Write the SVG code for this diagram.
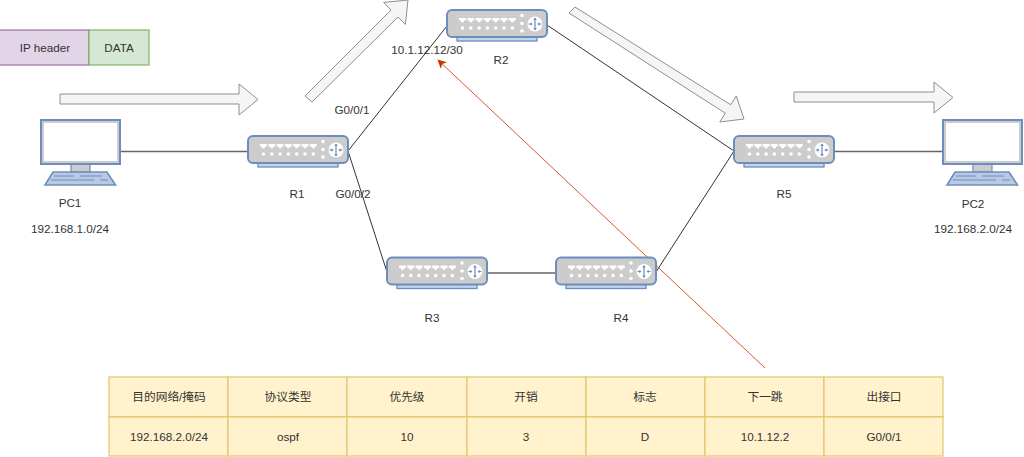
<svg xmlns="http://www.w3.org/2000/svg" xmlns:xlink="http://www.w3.org/1999/xlink" width="1024" height="457" viewBox="0 0 1024 457">
<style>
text{font-family:"Liberation Sans","Noto Sans CJK SC",Arial,sans-serif;font-size:11.7px;fill:#333;text-anchor:middle}
.link{stroke:#333;stroke-width:1;fill:none}
.grey{stroke:#666;stroke-width:1.300}
.blk{fill:#f5f5f5;stroke:#8f8f8f;stroke-width:1}
.cell{fill:#fff2cc;stroke:#e3c56f;stroke-width:1.200}
.body{fill:#ccc;stroke:#6c8ebf;stroke-width:2}
.blue{fill:#c6d4ea;stroke:#6c8ebf;stroke-width:1.300}
.w{fill:#fff}
</style>
<defs>
<g id="port"><path d="M-3.500-2H3.500V.5H1.500V2.300H-1.500V.5H-3.500Z" class="w"/><circle cy="8" r="1.800" class="w"/></g>
<g id="router">
<rect x="10" y="27" width="80" height="4" class="blue"/>
<rect x="0" y="0" width="100" height="27" rx="5" class="body"/>
<use xlink:href="#port" href="#port" x="15.500" y="10"/>
<use xlink:href="#port" href="#port" x="23.800" y="10"/>
<use xlink:href="#port" href="#port" x="32.100" y="10"/>
<use xlink:href="#port" href="#port" x="40.400" y="10"/>
<use xlink:href="#port" href="#port" x="48.700" y="10"/>
<use xlink:href="#port" href="#port" x="57" y="10"/>
<use xlink:href="#port" href="#port" x="65.300" y="10"/>
<circle cx="75" cy="5.500" r="1.800" class="w"/><circle cx="75" cy="13.500" r="1.800" class="w"/><circle cx="75" cy="21" r="1.800" class="w"/>
<circle cx="88" cy="14" r="7.500" class="w"/>
<path d="M88 8.500V19.500M81.500 14H85M91 14H94.500" stroke="#6c8ebf" stroke-width="1.200" fill="none"/>
<path d="M88 7.500l-1.800 2.500h3.600zM88 20.500l-1.800-2.500h3.600zM85.500 14l-2.200-1.700v3.400zM90.500 14l2.200-1.700v3.400z" fill="#6c8ebf"/>
</g>
<g id="pc">
<rect x="31" y="45" width="19" height="8" fill="#ccc" stroke="#6c8ebf" stroke-width="1.200"/>
<rect x="1" y="1" width="79" height="44" fill="#fff" stroke="#6c8ebf" stroke-width="2"/>
<rect x="3" y="3" width="75" height="40" fill="none" stroke="#ccc" stroke-width="2"/>
<path d="M13 53H67L75.500 66H5Z" fill="#b9c9e2" stroke="#6c8ebf" stroke-width="1.600"/>
<path d="M14 57H34M40 57H62M11 61H54M60 61H68" stroke="#6c8ebf" stroke-width="1.200" fill="none"/>
</g>
<marker id="redhead" viewBox="0 0 10 10" refX="9" refY="5" markerWidth="9" markerHeight="9" markerUnits="userSpaceOnUse" orient="auto"><path d="M0 0L10 5L0 10L2.500 5Z" fill="#c73500"/></marker>
</defs>

<g id="packet">
<rect x="-1" y="30" width="90" height="35" fill="#e1d5e7" stroke="#9673a6" stroke-width="1.200"/>
<rect x="89" y="30" width="60" height="35" fill="#d5e8d4" stroke="#82b366" stroke-width="1.200"/>
<text x="45" y="52">IP header</text>
<text x="119" y="52">DATA</text>
</g>

<g id="flow-arrows">
<path class="blk" d="M60 94H239V84L258 99.500L239 115V104H60Z"/>
<path class="blk" d="M305 96L391 10L383.600 2.400L408 0L405.400 24.400L398 17L312 102Z"/>
<path class="blk" d="M569 13L575 7L730.700 104.800L736.300 96L744 119L719.700 122L725.300 113.200Z"/>
<path class="blk" d="M794 92H934V82L953 97.500L934 113V102H794Z"/>
</g>

<g id="connectors">
<path class="link grey" d="M120 151.500H248"/>
<path class="link" d="M348 151L447 26"/>
<path class="link" d="M348 151L387 272"/>
<path class="link" d="M547 25L734 151"/>
<path class="link grey" d="M487 273H556"/>
<path class="link" d="M656 272L734 151"/>
<path class="link grey" d="M834 151.500H942"/>
<path d="M765 368L438 60" fill="none" stroke="#d4592f" stroke-width="1" marker-end="url(#redhead)"/>
</g>

<g id="PC1"><use xlink:href="#pc" href="#pc" x="40" y="119"/><text x="70" y="207">PC1</text><text x="70" y="233">192.168.1.0/24</text></g>
<g id="R1"><use xlink:href="#router" href="#router" x="248" y="136"/><text x="297" y="198">R1</text></g>
<g id="R2"><use xlink:href="#router" href="#router" x="447" y="10"/><text x="501" y="64">R2</text></g>
<g id="R3"><use xlink:href="#router" href="#router" x="387" y="257.500"/><text x="432" y="322">R3</text></g>
<g id="R4"><use xlink:href="#router" href="#router" x="556" y="257.500"/><text x="621" y="322">R4</text></g>
<g id="R5"><use xlink:href="#router" href="#router" x="734" y="136"/><text x="784" y="198">R5</text></g>
<g id="PC2"><use xlink:href="#pc" href="#pc" x="942" y="119"/><text x="973" y="208">PC2</text><text x="973" y="233">192.168.2.0/24</text></g>

<g id="labels">
<text x="352" y="114">G0/0/1</text>
<text x="353" y="198">G0/0/2</text>
<text x="427" y="54">10.1.12.12/30</text>
</g>

<g id="route-table">
<rect class="cell" x="109" y="377" width="119" height="40"/><rect class="cell" x="228" y="377" width="119" height="40"/><rect class="cell" x="347" y="377" width="120" height="40"/><rect class="cell" x="467" y="377" width="119" height="40"/><rect class="cell" x="586" y="377" width="119" height="40"/><rect class="cell" x="705" y="377" width="119" height="40"/><rect class="cell" x="824" y="377" width="119" height="40"/>
<rect class="cell" x="109" y="417" width="119" height="39"/><rect class="cell" x="228" y="417" width="119" height="39"/><rect class="cell" x="347" y="417" width="120" height="39"/><rect class="cell" x="467" y="417" width="119" height="39"/><rect class="cell" x="586" y="417" width="119" height="39"/><rect class="cell" x="705" y="417" width="119" height="39"/><rect class="cell" x="824" y="417" width="119" height="39"/>
<text x="169" y="401">目的网络/掩码</text><text x="288" y="401">协议类型</text><text x="407" y="401">优先级</text><text x="526" y="401">开销</text><text x="645" y="401">标志</text><text x="765" y="401">下一跳</text><text x="884" y="401">出接口</text>
<text x="169" y="441">192.168.2.0/24</text><text x="288" y="441">ospf</text><text x="407" y="441">10</text><text x="526" y="441">3</text><text x="645" y="441">D</text><text x="765" y="441">10.1.12.2</text><text x="884" y="441">G0/0/1</text>
</g>
</svg>
